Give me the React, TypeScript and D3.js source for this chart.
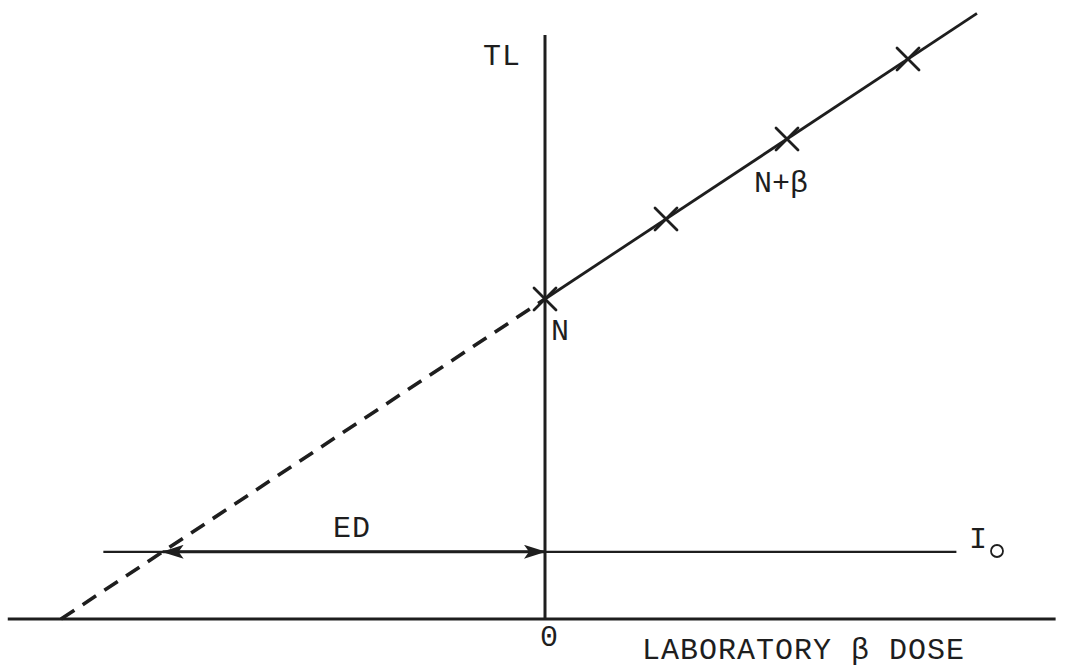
import React from "react";
import * as d3 from "d3";

// Additive-dose plot: natural TL (N) plus laboratory beta doses (N+β)
const doseLevels = [0, 1, 2, 3];
const tlValues = [4, 5, 6, 7];
const fitEndDose = 3.57;
const extrapolatedDose = -4; // where the fit meets TL = 0
const plateauTL = 0.84; // I0 level
const axisDoseRange = [-4.44, 4.22];
const axisTLTop = 7.3;
const i0Range = [-3.65, 3.4];

const W = 1068;
const H = 667;

const x = d3.scaleLinear().domain([0, 1]).range([545, 666]);
const y = d3.scaleLinear().domain([0, 1]).range([619, 539]);

// least-squares line through the measured points
const meanX = d3.mean(doseLevels)!;
const meanY = d3.mean(tlValues)!;
const slope =
  d3.sum(doseLevels.map((d, i) => (d - meanX) * (tlValues[i] - meanY))) /
  d3.sum(doseLevels.map((d) => (d - meanX) ** 2));
const intercept = meanY - slope * meanX;
const fit = (d: number) => intercept + slope * d;
const edDose = (plateauTL - intercept) / slope;

const line = d3
  .line<number>()
  .x((d) => x(d))
  .y((d) => y(fit(d)));

const FONT = "'Liberation Mono', 'DejaVu Sans Mono', monospace";
const INK = "#1e1e1e";

function Cross({ cx, cy }: { cx: number; cy: number }) {
  const s = 11;
  return (
    <g stroke={INK} strokeWidth={2.8} strokeLinecap="round">
      <line x1={cx - s} y1={cy - s} x2={cx + s} y2={cy + s} />
      <line x1={cx - s} y1={cy + s} x2={cx + s} y2={cy - s} />
    </g>
  );
}

export default function App() {
  const yI0 = y(plateauTL);
  return (
    <svg
      width={W}
      height={H}
      style={{ position: "absolute", left: 0, top: 0, background: "#fff" }}
      fontFamily={FONT}
    >
      <defs>
        <marker
          id="head"
          viewBox="0 0 22 14"
          refX={21}
          refY={7}
          markerWidth={22}
          markerHeight={14}
          markerUnits="userSpaceOnUse"
          orient="auto-start-reverse"
        >
          <path d="M0,0 L22,7 L0,14 L5,7 Z" fill={INK} />
        </marker>
      </defs>

      {/* axes */}
      <line x1={x(axisDoseRange[0])} y1={y(0)} x2={x(axisDoseRange[1])} y2={y(0)} stroke={INK} strokeWidth={3} />
      <line x1={x(0)} y1={y(0)} x2={x(0)} y2={y(axisTLTop)} stroke={INK} strokeWidth={3} />

      {/* I0 level */}
      <line x1={x(i0Range[0])} y1={yI0} x2={x(i0Range[1])} y2={yI0} stroke={INK} strokeWidth={2.2} />

      {/* ED arrow */}
      <line
        x1={x(edDose)}
        y1={yI0}
        x2={x(0)}
        y2={yI0}
        stroke={INK}
        strokeWidth={3}
        markerStart="url(#head)"
        markerEnd="url(#head)"
      />

      {/* extrapolation */}
      <path
        d={line([extrapolatedDose, 0])!}
        fill="none"
        stroke={INK}
        strokeWidth={3.6}
        strokeDasharray="16 10"
      />

      {/* fit through measured points */}
      <path d={line([0, fitEndDose])!} fill="none" stroke={INK} strokeWidth={2.8} />

      {doseLevels.map((d, i) => (
        <Cross key={d} cx={x(d)} cy={y(tlValues[i])} />
      ))}

      {/* labels */}
      <g fill={INK} fontSize={30}>
        <text x={483} y={65} letterSpacing={1}>TL</text>
        <text x={551} y={340}>N</text>
        <text x={754} y={192}>N+β</text>
        <text x={333} y={537} letterSpacing={1}>ED</text>
        <text x={x(0) + 4} y={646} textAnchor="middle">0</text>
        <text x={642} y={659} letterSpacing={1}>LABORATORY β DOSE</text>
        <text x={969} y={548}>I</text>
        <circle cx={997} cy={551} r={6} fill="none" stroke={INK} strokeWidth={1.8} />
      </g>
    </svg>
  );
}
